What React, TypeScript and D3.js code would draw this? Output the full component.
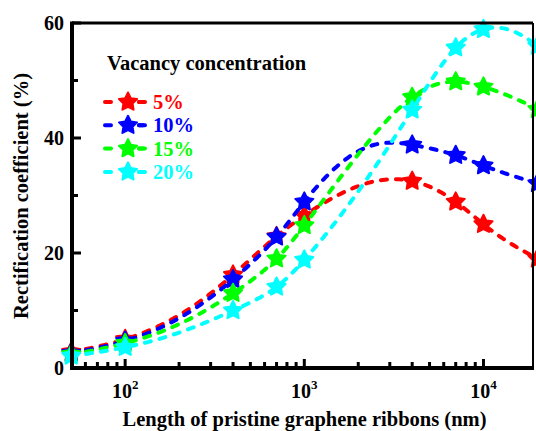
import React from "react";
import * as d3 from "d3";

// Ribbon lengths (nm) at which the coefficient was computed
const lengths = [50, 100, 400, 700, 1000, 4000, 7000, 10000, 20000];

// Rectification coefficient (%) for each vacancy concentration
const vac5 = [2.8, 5.0, 16.2, 22.9, 26.5, 32.5, 28.9, 25.0, 19.0];
const vac10 = [2.6, 4.7, 15.4, 22.8, 28.9, 38.8, 37.0, 35.2, 32.1];
const vac15 = [2.4, 4.3, 13.0, 19.0, 24.8, 47.1, 49.8, 48.9, 45.0];
const vac20 = [2.1, 3.6, 10.0, 14.1, 18.8, 44.9, 55.7, 58.9, 56.0];

const seriesNames = ["5%", "10%", "15%", "20%"];
const seriesColors = ["#ff0000", "#0000ff", "#00ff00", "#00ffff"];
const seriesValues = [vac5, vac10, vac15, vac20];

const yTicksMajor = [0, 20, 40, 60];
const yTicksMinor = [10, 30, 50];
const xDecades = [100, 1000, 10000];
const xDecadeExp = ["2", "3", "4"];

const W = 536;
const H = 431;
const plot = { left: 72, right: 533, top: 23, bottom: 368 };
const FONT = "'Liberation Serif', 'Times New Roman', serif";

function starPath(R: number, r: number): string {
  const pts: [number, number][] = d3.range(10).map((i) => {
    const a = (i * Math.PI) / 5 - Math.PI / 2;
    const rad = i % 2 === 0 ? R : r;
    return [rad * Math.cos(a), rad * Math.sin(a)];
  });
  return d3.line()(pts) + "Z";
}

// Natural cubic spline through (xs, ys), fitted against sqrt(length),
// sampled evenly in log space so it renders smoothly on the log axis.
function splineSamples(xsRaw: number[], ys: number[], perSeg = 40): [number, number][] {
  const warp = (v: number) => Math.sqrt(v);
  const xs = xsRaw.map(warp);
  const n = xs.length;
  const h = d3.range(n - 1).map((i) => xs[i + 1] - xs[i]);
  const a = new Array(n).fill(0);
  const b = new Array(n).fill(0);
  const c = new Array(n).fill(0);
  const d = new Array(n).fill(0);
  b[0] = 1;
  b[n - 1] = 1;
  for (let i = 1; i < n - 1; i++) {
    a[i] = h[i - 1];
    b[i] = 2 * (h[i - 1] + h[i]);
    c[i] = h[i];
    d[i] = 6 * ((ys[i + 1] - ys[i]) / h[i] - (ys[i] - ys[i - 1]) / h[i - 1]);
  }
  // Thomas algorithm for second derivatives
  const cp = new Array(n).fill(0);
  const dp = new Array(n).fill(0);
  cp[0] = c[0] / b[0];
  dp[0] = d[0] / b[0];
  for (let i = 1; i < n; i++) {
    const m = b[i] - a[i] * cp[i - 1];
    cp[i] = c[i] / m;
    dp[i] = (d[i] - a[i] * dp[i - 1]) / m;
  }
  const M = new Array(n).fill(0);
  M[n - 1] = dp[n - 1];
  for (let i = n - 2; i >= 0; i--) M[i] = dp[i] - cp[i] * M[i + 1];

  const out: [number, number][] = [];
  for (let i = 0; i < n - 1; i++) {
    const l0 = Math.log(xsRaw[i]);
    const l1 = Math.log(xsRaw[i + 1]);
    for (let k = 0; k < perSeg; k++) {
      const raw = Math.exp(l0 + ((l1 - l0) * k) / perSeg);
      const xv = warp(raw);
      const A = (xs[i + 1] - xv) / h[i];
      const B = (xv - xs[i]) / h[i];
      const yv =
        A * ys[i] +
        B * ys[i + 1] +
        (((A * A * A - A) * M[i] + (B * B * B - B) * M[i + 1]) * h[i] * h[i]) / 6;
      out.push([raw, yv]);
    }
  }
  out.push([xsRaw[n - 1], ys[n - 1]]);
  return out;
}

export default function App() {
  const x = d3.scaleLog().domain([50.5, 18900]).range([plot.left, plot.right]);
  const y = d3.scaleLinear().domain([0, 60]).range([plot.bottom, plot.top]);

  const line = d3
    .line<[number, number]>()
    .x((p) => x(p[0]))
    .y((p) => y(p[1]));

  const star = starPath(9.5, 4.8);

  // minor ticks on the log axis
  const xMinor: number[] = [];
  [10, 100, 1000, 10000].forEach((dec) => {
    for (let k = 2; k <= 9; k++) {
      const v = dec * k;
      if (v > 50.6 && v < 18900) xMinor.push(v);
    }
  });

  const legendX = 103;
  const legendY0 = 102;
  const legendDy = 23.3;

  return (
    <svg width={W} height={H} style={{ display: "block", position: "absolute", left: 0, top: 0 }}>
      <rect width={W} height={H} fill="#fff" />

      {/* series */}
      {seriesValues.map((vals, si) => (
        <g key={si}>
          <path
            d={line(splineSamples(lengths, vals)) || ""}
            fill="none"
            stroke={seriesColors[si]}
            strokeWidth={4}
            strokeDasharray="6 9"
            strokeLinecap="round"
          />
          {vals.map((v, i) => (
            <path
              key={i}
              d={star}
              transform={`translate(${x(lengths[i])},${y(v)})`}
              fill={seriesColors[si]}
              stroke={seriesColors[si]}
              strokeWidth={2}
              strokeLinejoin="round"
            />
          ))}
        </g>
      ))}

      {/* frame */}
      <line x1={plot.left} x2={plot.right} y1={plot.top} y2={plot.top} stroke="#000" strokeWidth={3} />
      <line x1={plot.right} x2={plot.right} y1={plot.top} y2={plot.bottom} stroke="#000" strokeWidth={2} />
      <line x1={plot.left} x2={plot.left} y1={plot.top - 1.5} y2={plot.bottom + 2} stroke="#000" strokeWidth={4} />
      <line x1={plot.left - 2} x2={plot.right + 1} y1={plot.bottom} y2={plot.bottom} stroke="#000" strokeWidth={4} />

      {/* y ticks */}
      {yTicksMajor.map((t) => (
        <g key={t}>
          <line x1={plot.left} x2={plot.left + 9} y1={y(t)} y2={y(t)} stroke="#000" strokeWidth={3} />
          <text
            x={plot.left - 8}
            y={y(t) + 7}
            textAnchor="end"
            fontFamily={FONT}
            fontWeight="bold"
            fontSize={20}
          >
            {t}
          </text>
        </g>
      ))}
      {yTicksMinor.map((t) => (
        <line key={t} x1={plot.left} x2={plot.left + 6} y1={y(t)} y2={y(t)} stroke="#000" strokeWidth={3} />
      ))}

      {/* x ticks */}
      {xDecades.map((t, i) => (
        <g key={t}>
          <line x1={x(t)} x2={x(t)} y1={plot.bottom} y2={plot.bottom - 9} stroke="#000" strokeWidth={3} />
          <text x={x(t)} y={398} textAnchor="middle" fontFamily={FONT} fontWeight="bold" fontSize={20}>
            10
            <tspan fontSize={13} dy={-9}>
              {xDecadeExp[i]}
            </tspan>
          </text>
        </g>
      ))}
      {xMinor.map((t) => (
        <line key={t} x1={x(t)} x2={x(t)} y1={plot.bottom} y2={plot.bottom - 6} stroke="#000" strokeWidth={3} />
      ))}

      {/* axis titles */}
      <text
        x={(plot.left + plot.right) / 2 + 2}
        y={426}
        textAnchor="middle"
        fontFamily={FONT}
        fontWeight="bold"
        fontSize={20.5}
      >
        Length of pristine graphene ribbons (nm)
      </text>
      <text
        transform="translate(28,196) rotate(-90)"
        textAnchor="middle"
        fontFamily={FONT}
        fontWeight="bold"
        fontSize={20.5}
      >
        Rectification coefficient (%)
      </text>

      {/* legend */}
      <text x={107} y={70} fontFamily={FONT} fontWeight="bold" fontSize={20.5}>
        Vacancy concentration
      </text>
      {seriesNames.map((name, i) => {
        const ly = legendY0 + i * legendDy;
        return (
          <g key={name}>
            <line
              x1={legendX + 2}
              x2={legendX + 42}
              y1={ly}
              y2={ly}
              stroke={seriesColors[i]}
              strokeWidth={4}
              strokeDasharray="6 28"
              strokeLinecap="round"
            />
            <line
              x1={legendX + 36}
              x2={legendX + 40}
              y1={ly}
              y2={ly}
              stroke={seriesColors[i]}
              strokeWidth={4}
              strokeLinecap="round"
            />
            <path
              d={star}
              transform={`translate(${legendX + 25},${ly})`}
              fill={seriesColors[i]}
              stroke={seriesColors[i]}
              strokeWidth={2}
              strokeLinejoin="round"
            />
            <text
              x={153}
              y={ly + 7}
              fill={seriesColors[i]}
              fontFamily={FONT}
              fontWeight="bold"
              fontSize={20.5}
            >
              {name}
            </text>
          </g>
        );
      })}
    </svg>
  );
}
